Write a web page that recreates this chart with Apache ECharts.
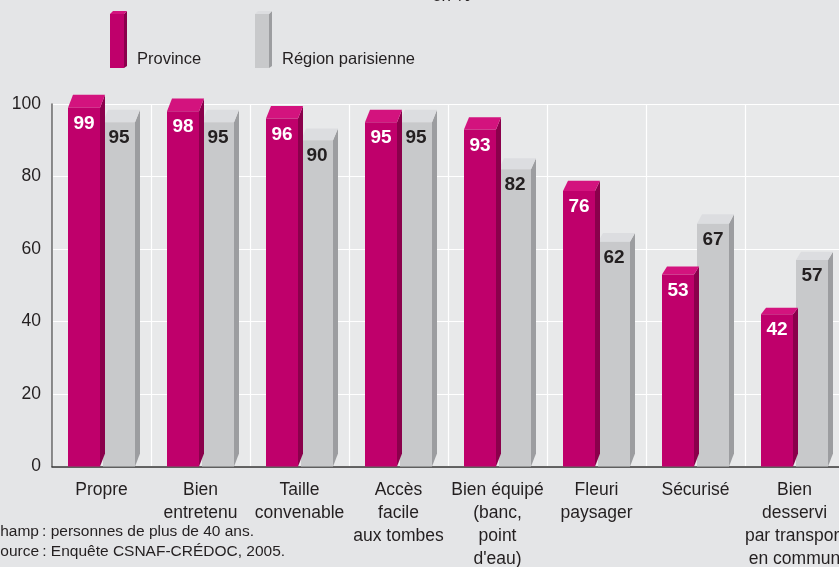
<!DOCTYPE html>
<html>
<head>
<meta charset="utf-8">
<script src="https://cdn.jsdelivr.net/npm/echarts@6/dist/echarts.min.js"></script>
<style>
  html, body { margin: 0; padding: 0; background: #e4e5e7; }
  #chart { width: 839px; height: 567px; }
</style>
</head>
<body>
<div id="chart"></div>
<script>
// Satisfaction with the cemetery, by region (in %)
const categories = [
  'Propre',
  'Bien\nentretenu',
  'Taille\nconvenable',
  'Accès\nfacile\naux tombes',
  'Bien équipé\n(banc,\npoint\nd\'eau)',
  'Fleuri\npaysager',
  'Sécurisé',
  'Bien\ndesservi\npar transport\nen commun'
];
const provinceValues = [99, 98, 96, 95, 93, 76, 53, 42];
const parisValues = [95, 95, 90, 95, 82, 62, 67, 57];
const seriesNames = ['Province', 'Région parisienne'];
const yMin = 0, yMax = 100, yStep = 20;

const FONT = '"Liberation Sans", Arial, sans-serif';
const TEXT = '#231f20';

const palettes = [
  { front: '#bf006b', top: '#d3137e', side: '#8a004b', label: '#ffffff' },
  { front: '#c8c9cb', top: '#dcdde0', side: '#9c9da0', label: '#231f20' }
];

// Each bar is drawn as a front face plus an oblique top and right side
function makeRender(which) {
  const pal = palettes[which];
  return function (params, api) {
    const idx = api.value(0);
    const val = api.value(1);
    const top = api.coord([idx, val]);
    const base = api.coord([idx, 0]);
    const c = top[0];
    const w = 32, gap = 1.5, dx = 5, dyB = 13;
    const x0 = which === 0 ? c - gap - w : c + gap;
    const x1 = x0 + w;
    const yT = top[1], yB = base[1];
    const dyT = 2 + 0.03 * (yB - yT);
    return {
      type: 'group',
      children: [
        { type: 'polygon', shape: { points: [[x1, yT], [x1 + dx, yT - dyT], [x1 + dx, yB - dyB], [x1, yB]] },
          style: { fill: pal.side } },
        { type: 'polygon', shape: { points: [[x0, yT], [x1, yT], [x1 + dx, yT - dyT], [x0 + dx, yT - dyT]] },
          style: { fill: pal.top } },
        { type: 'rect', shape: { x: x0, y: yT, width: w, height: yB - yT },
          style: { fill: pal.front } },
        { type: 'text', style: { text: String(val), x: (x0 + x1) / 2, y: yT + 16,
            align: 'center', verticalAlign: 'middle', fill: pal.label,
            font: 'bold 19px ' + FONT } }
      ]
    };
  };
}

// Legend swatch drawn in the same 3D style
function swatch(x, pal) {
  const w = 14, dx = 3, dy = 3, y0 = 14, y1 = 68;
  return [
    { type: 'polygon', shape: { points: [[x + w, y0], [x + w + dx, y0 - dy], [x + w + dx, y1 - 2], [x + w, y1]] }, style: { fill: pal.side } },
    { type: 'polygon', shape: { points: [[x, y0], [x + w, y0], [x + w + dx, y0 - dy], [x + dx, y0 - dy]] }, style: { fill: pal.top } },
    { type: 'rect', shape: { x: x, y: y0, width: w, height: y1 - y0 }, style: { fill: pal.front } }
  ];
}

const chart = echarts.init(document.getElementById('chart'), null, { renderer: 'canvas' });
chart.setOption({
  backgroundColor: '#e4e5e7',
  animation: false,
  grid: { left: 52, top: 104, right: -5, bottom: 100.5, outerBoundsMode: 'none',
          show: true, backgroundColor: '#e8e9ea', borderWidth: 0 },
  xAxis: {
    type: 'category',
    data: categories,
    axisLine: { lineStyle: { color: '#333333', width: 1.5 } },
    axisTick: { show: false },
    splitLine: { show: true, lineStyle: { color: '#ffffff', width: 1.2 } },
    axisLabel: { color: TEXT, fontFamily: FONT, fontSize: 17.5, lineHeight: 23, margin: 12,
                 interval: 0, hideOverlap: false }
  },
  yAxis: {
    type: 'value',
    min: yMin, max: yMax, interval: yStep,
    axisLine: { show: true, lineStyle: { color: '#666666', width: 1.5 } },
    axisTick: { show: false },
    splitLine: { show: true, lineStyle: { color: '#ffffff', width: 1.2 } },
    axisLabel: { color: TEXT, fontFamily: FONT, fontSize: 17.5, margin: 11 }
  },
  series: [
    { name: seriesNames[1], type: 'custom', z: 2, renderItem: makeRender(1),
      encode: { x: 0, y: 1 }, data: parisValues.map((v, i) => [i, v]) },
    { name: seriesNames[0], type: 'custom', z: 3, renderItem: makeRender(0),
      encode: { x: 0, y: 1 }, data: provinceValues.map((v, i) => [i, v]) }
  ],
  graphic: [
    ...swatch(110, palettes[0]),
    ...swatch(255, palettes[1]),
    { type: 'text', left: 137, top: 51, style: { text: seriesNames[0], fill: TEXT, font: '16.5px ' + FONT } },
    { type: 'text', left: 282, top: 51, style: { text: seriesNames[1], fill: TEXT, font: '16.5px ' + FONT } },
    { type: 'text', left: 432, top: -12.5, style: { text: 'en %', fill: TEXT, font: '17px ' + FONT } },
    { type: 'text', left: -11, top: 524, style: { text: 'Champ\u202f: personnes de plus de 40 ans.', fill: TEXT, font: '15.5px ' + FONT } },
    { type: 'text', left: -10, top: 544, style: { text: 'Source\u202f: Enquête CSNAF-CRÉDOC, 2005.', fill: TEXT, font: '15.5px ' + FONT } }
  ]
});
</script>
</body>
</html>
